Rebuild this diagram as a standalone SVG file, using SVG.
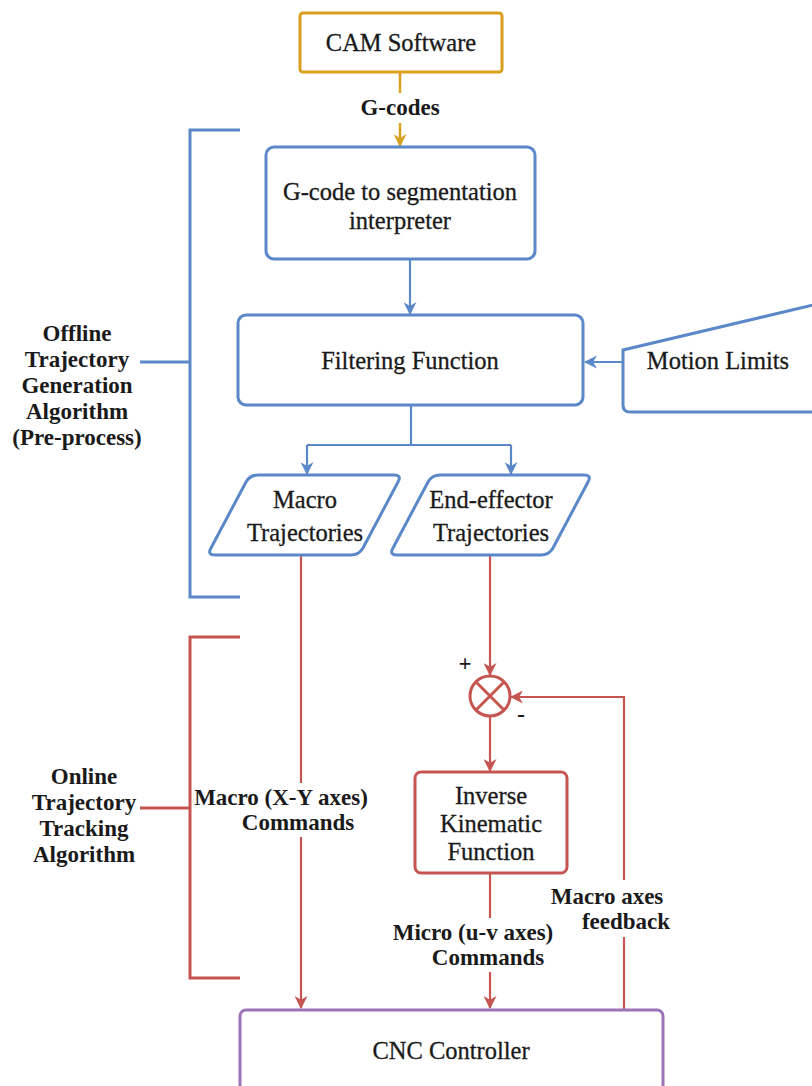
<svg xmlns="http://www.w3.org/2000/svg" width="812" height="1086" viewBox="0 0 812 1086">
  <defs>
    <marker id="arrBlue" viewBox="0 0 12 12" refX="11" refY="6" markerWidth="13" markerHeight="13" markerUnits="userSpaceOnUse" orient="auto">
      <path d="M0,0 L12,6 L0,12 L3.5,6 z" fill="#5A88C8"/>
    </marker>
    <marker id="arrRed" viewBox="0 0 12 12" refX="11" refY="6" markerWidth="13" markerHeight="13" markerUnits="userSpaceOnUse" orient="auto">
      <path d="M0,0 L12,6 L0,12 L3.5,6 z" fill="#C55550"/>
    </marker>
    <marker id="arrGold" viewBox="0 0 12 12" refX="11" refY="6" markerWidth="13" markerHeight="13" markerUnits="userSpaceOnUse" orient="auto">
      <path d="M0,0 L12,6 L0,12 L3.5,6 z" fill="#D9A01E"/>
    </marker>
    <style>
      text { fill: #1a1a1a; text-anchor: middle; }
      .t { font-family: 'Liberation Serif', 'DejaVu Serif', serif; font-size: 24.5px; font-weight: normal; stroke: #1a1a1a; stroke-width: 0.3; }
      .b { font-family: 'Liberation Serif', serif; font-size: 23px; font-weight: bold; }
      .blue { fill: #fff; stroke: #5A88C8; stroke-width: 3; }
      .red { fill: #fff; stroke: #C55550; stroke-width: 3; }
      .gold { fill: #fff; stroke: #D9A01E; stroke-width: 3; }
      .purple { fill: #fff; stroke: #9C72B8; stroke-width: 3; }
      .lb { fill: none; stroke: #5A88C8; stroke-width: 2.2; }
      .lr { fill: none; stroke: #C55550; stroke-width: 2.2; }
      .lg { fill: none; stroke: #D9A01E; stroke-width: 2.5; }
      .brb { fill: none; stroke: #5A88C8; stroke-width: 3; }
      .brr { fill: none; stroke: #C55550; stroke-width: 3; }
    </style>
  </defs>

  <!-- stage brackets -->
  <g id="offline-bracket">
    <path class="brb" d="M240,130 H190 V597 H240 M190,362 H140"/>
    <text class="b" x="77" y="341">Offline</text>
    <text class="b" x="77" y="367">Trajectory</text>
    <text class="b" x="77" y="393">Generation</text>
    <text class="b" x="77" y="419">Algorithm</text>
    <text class="b" x="77" y="445">(Pre-process)</text>
  </g>
  <g id="online-bracket">
    <path class="brr" d="M240,637 H190 V978 H240 M190,808 H140"/>
    <text class="b" x="84" y="784">Online</text>
    <text class="b" x="84" y="810">Trajectory</text>
    <text class="b" x="84" y="836">Tracking</text>
    <text class="b" x="84" y="862">Algorithm</text>
  </g>

  <!-- connectors -->
  <g id="connectors">
    <path class="lg" d="M400,73 V93"/>
    <path class="lg" d="M400,123 V146" marker-end="url(#arrGold)"/>
    <text class="b" x="400" y="115">G-codes</text>

    <path class="lb" d="M410,260 V314" marker-end="url(#arrBlue)"/>
    <path class="lb" d="M623,362 H585" marker-end="url(#arrBlue)"/>
    <path class="lb" d="M411,405 V445"/>
    <path class="lb" d="M307,445 H511"/>
    <path class="lb" d="M307,445 V474" marker-end="url(#arrBlue)"/>
    <path class="lb" d="M511,445 V474" marker-end="url(#arrBlue)"/>

    <path class="lr" d="M301,556 V783"/>
    <path class="lr" d="M301,837 V1008" marker-end="url(#arrRed)"/>
    <text class="b" x="281" y="805">Macro (X-Y axes)</text>
    <text class="b" x="298" y="830">Commands</text>

    <path class="lr" d="M490,556 V675" marker-end="url(#arrRed)"/>
    <path class="lr" d="M490,716 V771" marker-end="url(#arrRed)"/>

    <path class="lr" d="M490,873 V918"/>
    <path class="lr" d="M490,972 V1008" marker-end="url(#arrRed)"/>
    <text class="b" x="473" y="940">Micro (u-v axes)</text>
    <text class="b" x="488" y="965">Commands</text>

    <path class="lr" d="M624,1010 V937"/>
    <path class="lr" d="M624,880 V697 H511" marker-end="url(#arrRed)"/>
    <text class="b" x="607" y="904">Macro axes</text>
    <text class="b" x="626" y="929">feedback</text>
  </g>

  <!-- nodes -->
  <g id="cam-software">
    <rect class="gold" x="300" y="13" width="202" height="59" rx="3"/>
    <text class="t" x="401" y="51">CAM Software</text>
  </g>
  <g id="interpreter">
    <rect class="blue" x="266" y="147" width="269" height="112" rx="8"/>
    <text class="t" x="400" y="200">G-code to segmentation</text>
    <text class="t" x="400" y="229">interpreter</text>
  </g>
  <g id="filtering">
    <rect class="blue" x="238" y="315" width="345" height="90" rx="8"/>
    <text class="t" x="410" y="369">Filtering Function</text>
  </g>
  <g id="motion-limits">
    <path class="blue" d="M830,301 L623,350 V405 Q623,412 630,412 H830"/>
    <text class="t" x="718" y="369">Motion Limits</text>
  </g>
  <g id="macro-trajectories">
    <path class="blue" d="M258,475 H394 Q402,475 398,482 L363,548 Q359,555 351,555 H215 Q207,555 211,548 L246,482 Q250,475 258,475 Z"/>
    <text class="t" x="305" y="508">Macro</text>
    <text class="t" x="305" y="541">Trajectories</text>
  </g>
  <g id="end-effector-trajectories">
    <path class="blue" d="M440,475 H584 Q592,475 588,482 L553,548 Q549,555 541,555 H397 Q389,555 393,548 L428,482 Q432,475 440,475 Z"/>
    <text class="t" x="491" y="508">End-effector</text>
    <text class="t" x="491" y="541">Trajectories</text>
  </g>
  <g id="summing-junction">
    <circle cx="490" cy="696" r="20" fill="#fff" stroke="#C55550" stroke-width="3"/>
    <path d="M476,682 L504,710 M504,682 L476,710" stroke="#C55550" stroke-width="3"/>
    <text class="b" x="465" y="671">+</text>
    <text class="b" x="521" y="722">-</text>
  </g>
  <g id="inverse-kinematic">
    <rect class="red" x="415" y="772" width="152" height="101" rx="6"/>
    <text class="t" x="491" y="804">Inverse</text>
    <text class="t" x="491" y="832">Kinematic</text>
    <text class="t" x="491" y="860">Function</text>
  </g>
  <g id="cnc-controller">
    <rect class="purple" x="240" y="1010" width="423" height="100" rx="6"/>
    <text class="t" x="451" y="1059">CNC Controller</text>
  </g>
</svg>
